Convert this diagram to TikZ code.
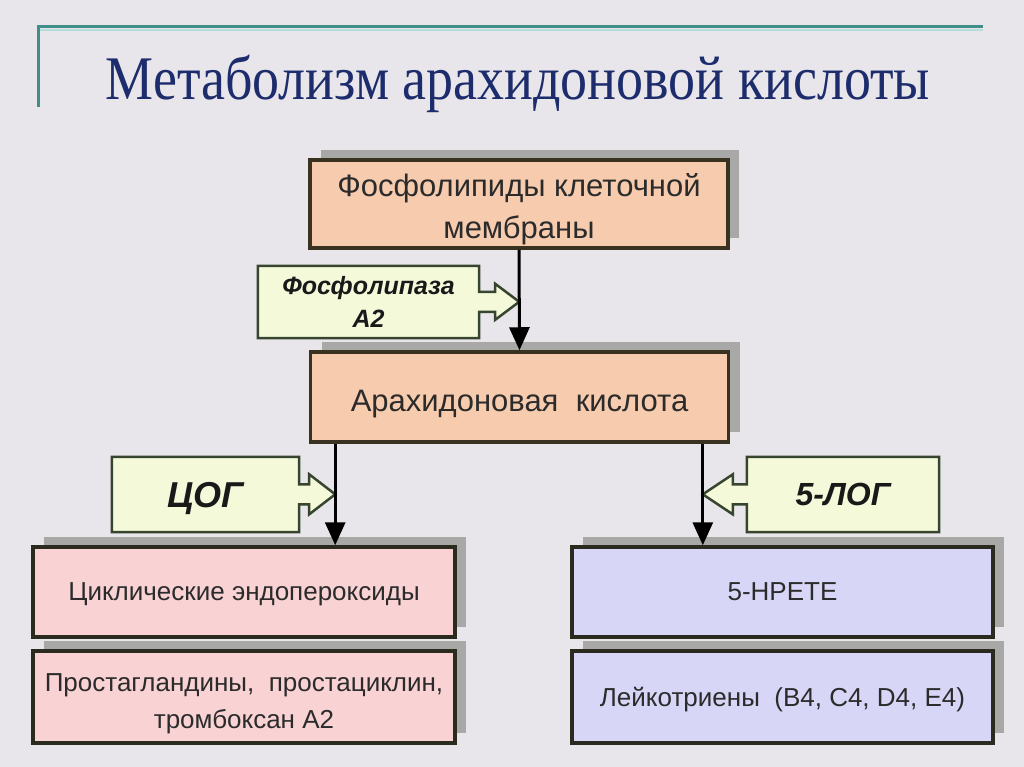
\documentclass[tikz,border=0pt]{standalone}
\usepackage{fontspec}
\setmainfont{Liberation Sans}
\newfontfamily\titlefont{Liberation Serif}
\usetikzlibrary{arrows.meta,shadows}

\definecolor{paper}{HTML}{E8E6EA}
\definecolor{teal}{HTML}{3F8E89}
\definecolor{tealpale}{HTML}{B4DEDC}
\definecolor{titleblue}{HTML}{1D2C6C}
\definecolor{peach}{HTML}{F7CBAE}
\definecolor{pinkfill}{HTML}{F9D2D4}
\definecolor{lavender}{HTML}{D8D6F6}
\definecolor{enzfill}{HTML}{F4F9DA}
\definecolor{enzline}{HTML}{37452F}
\definecolor{brownline}{HTML}{3A3220}
\definecolor{darkline}{HTML}{2A2A1E}
\definecolor{shadowgray}{HTML}{A8A8A6}
\definecolor{textgray}{HTML}{2B2B2B}

\pgfdeclarelayer{paperlayer}
\pgfdeclarelayer{shapelayer}
\pgfsetlayers{paperlayer,shapelayer,main}

\begin{document}
\begin{tikzpicture}[
    x=1pt, y=-1pt,
    box/.style={rectangle, line width=3.5pt, inner sep=0pt, align=center,
                text=textgray, text depth=0pt,
                drop shadow={shadow xshift=11pt, shadow yshift=10pt,
                             opacity=1, fill=shadowgray}},
    membox/.style={box, draw=brownline, fill=peach,
                   minimum width=418pt, minimum height=88pt,
                   font=\fontsize{31}{42}\selectfont},
    coxbox/.style={box, draw=darkline, fill=pinkfill,
                   minimum width=422pt, minimum height=90pt,
                   font=\fontsize{26}{37}\selectfont},
    loxbox/.style={box, draw=darkline, fill=lavender,
                   minimum width=421pt, minimum height=90pt,
                   font=\fontsize{26}{37}\selectfont},
    enztext/.style={inner sep=0pt, align=center, text=black!90,
                    font=\bfseries\itshape},
    enzyme/.style={draw=enzline, fill=enzfill, line width=2.5pt,
                   line join=miter},
    flow/.style={draw=black, line width=3pt,
                 -{Triangle[length=23pt,width=20pt]}}
]
    \begin{pgfonlayer}{paperlayer}
        \fill[paper] (0,0) rectangle (1024,767);
    \end{pgfonlayer}
    \useasboundingbox (0,0) rectangle (1024,767);

    % title rule
    \draw[tealpale, line width=2pt] (40,30.5) -- (983,30.5);
    \draw[teal, line width=3pt] (38,107) -- (38,27) -- (983,27);

    \node[anchor=base, text=titleblue, xscale=.87, transform shape,
          font=\titlefont\fontsize{62}{70}\selectfont] (title) at (518,100)
        {Метаболизм арахидоновой кислоты};

    % main chain
    \node[membox, text height=70pt] (mem) at (519,204)
        {Фосфолипиды клеточной\\мембраны};
    \node[membox, minimum height=90pt, text height=28pt,
          font=\fontsize{31}{36}\selectfont]
        (ara) at (519.5,397) {Арахидоновая\ \ кислота};

    % products
    \node[coxbox] (cyc) at (244,592) {Циклические эндопероксиды};
    \node[coxbox, minimum height=92pt, text height=62pt] (pg) at (244,697)
        {Простагландины,\ \ простациклин,\\тромбоксан A2};
    \node[loxbox] (hpete) at (782.5,592) {5-HPETE};
    \node[loxbox, minimum height=92pt] (lt) at (782.5,697)
        {Лейкотриены\ \ (B4, C4, D4, E4)};

    % enzymes
    \node[enztext, minimum width=221pt, minimum height=72pt,
          font=\bfseries\itshape\fontsize{25}{33}\selectfont]
        (pla) at (368.5,302) {Фосфолипаза\\A2};
    \node[enztext, minimum width=187pt, minimum height=75pt, text depth=0pt,
          font=\bfseries\itshape\fontsize{36}{40}\selectfont]
        (cox) at (205.5,494.5) {ЦОГ};
    \node[enztext, minimum width=192pt, minimum height=75pt, text depth=0pt,
          font=\bfseries\itshape\fontsize{32}{40}\selectfont]
        (lox) at (843,494.5) {5-ЛОГ};

    \begin{pgfonlayer}{shapelayer}
        \draw[enzyme] (pla.north west) -- (pla.north east) -- ++(0,26)
            -- ++(16,0) -- ++(0,-8) -- ++(24,18) coordinate (platip)
            -- ++(-24,18) -- ++(0,-8) -- ++(-16,0)
            -- (pla.south east) -- (pla.south west) -- cycle;
        \draw[enzyme] (cox.north west) -- (cox.north east) -- ++(0,27.5)
            -- ++(10,0) -- ++(0,-10) -- ++(26,20) coordinate (coxtip)
            -- ++(-26,20) -- ++(0,-10) -- ++(-10,0)
            -- (cox.south east) -- (cox.south west) -- cycle;
        \draw[enzyme] (lox.north east) -- (lox.north west) -- ++(0,27.5)
            -- ++(-14,0) -- ++(0,-10) -- ++(-30,20) coordinate (loxtip)
            -- ++(30,20) -- ++(0,-10) -- ++(14,0)
            -- (lox.south west) -- (lox.south east) -- cycle;
    \end{pgfonlayer}

    % arrows
    \draw[flow] (mem.south) -- (ara.north);
    \draw[flow] (coxtip |- ara.south) -- (coxtip |- cyc.north);
    \draw[flow] (loxtip |- ara.south) -- (loxtip |- hpete.north);

\end{tikzpicture}
\end{document}
